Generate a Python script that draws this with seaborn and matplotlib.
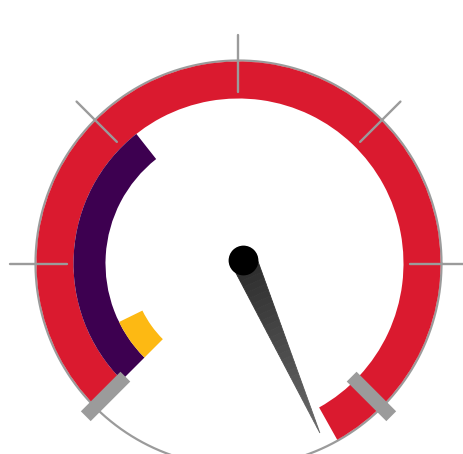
import numpy as np
import matplotlib
matplotlib.use("Agg")
import matplotlib.pyplot as plt
import seaborn as sns
from matplotlib.colors import to_rgb

# Gauge data
gauge_min = 0
gauge_max = 60
tick_values = [0, 10, 20, 30, 40, 50, 60]
bar_names = ["outer", "middle", "inner"]
bar_values = [63.5, 21.5, 4.2]
needle_value = 64.3

# Styling
bar_colors = ["#DA1A2F", "#3D0050", "#FDB913"]
bar_radii = [(165, 202), (133, 165), (107, 133)]
gray = "#9B9B9B"
start_deg, sweep_deg = 225, 270


def to_theta(v):
    # map a gauge value onto the dial angle (radians)
    frac = (v - gauge_min) / (gauge_max - gauge_min)
    return np.deg2rad(start_deg - sweep_deg * frac)


sns.set_style("white")

fig = plt.figure(figsize=(4.63, 4.54), dpi=100)
# polar axes centred on the dial, 1 data unit = 1 pixel
half = 232
cx, cy = 238.5, 454 - 263.5
ax = fig.add_axes([(cx - half) / 463, (cy - half) / 454, 2 * half / 463, 2 * half / 454],
                  projection="polar")
ax.set_rlim(0, half)
ax.set_axis_off()

# thin outer ring
ring = np.linspace(0, 2 * np.pi, 400)
ax.plot(ring, np.full_like(ring, 203), color=gray, lw=1.6, zorder=1)

# value bars
for name, val, col, (r0, r1) in zip(bar_names, bar_values, bar_colors, bar_radii):
    t0, t1 = to_theta(gauge_min), to_theta(val)
    ax.bar((t0 + t1) / 2, r1 - r0, width=abs(t1 - t0), bottom=r0,
           color=col, linewidth=0, zorder=2, label=name)

# minor ticks and end markers
for tv in tick_values:
    th = to_theta(tv)
    if tv in (gauge_min, gauge_max):
        ax.plot([th, th], [160, 216], color=gray, lw=10, solid_capstyle="butt", zorder=4)
    else:
        ax.plot([th, th], [172, 229], color=gray, lw=1.7, zorder=3)

# needle: tapered triangle from a slightly offset pivot, shaded dark to light
pivot = np.array([5.0, 4.0])
tn = to_theta(needle_value)
tip = 188 * np.array([np.cos(tn), np.sin(tn)])
u = (tip - pivot) / np.linalg.norm(tip - pivot)
n = np.array([-u[1], u[0]])
half_w = 13
left0, right0 = pivot + n * half_w, pivot - n * half_w
c0, c1 = np.array(to_rgb("#2A2A2A")), np.array(to_rgb("#6A6A6A"))
steps = 30
for i in range(steps):
    a, b = i / steps, (i + 1) / steps
    pts = np.array([left0 + (tip - left0) * a, left0 + (tip - left0) * b,
                    right0 + (tip - right0) * b, right0 + (tip - right0) * a])
    th = np.arctan2(pts[:, 1], pts[:, 0])
    rr = np.hypot(pts[:, 0], pts[:, 1])
    col = c0 + (c1 - c0) * (a + b) / 2
    ax.fill(th, rr, color=col, lw=0.6, zorder=5)

# pivot dot
ax.scatter([np.arctan2(pivot[1], pivot[0])], [np.hypot(*pivot)], s=460,
           color="black", zorder=6, linewidths=0)

fig.savefig("out.png", dpi=100)
